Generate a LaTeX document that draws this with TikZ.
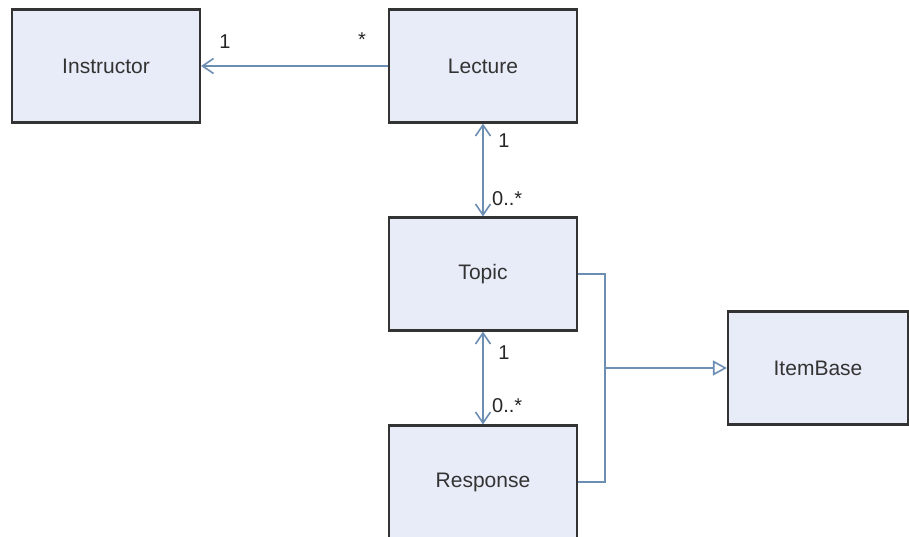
\documentclass[tikz,border=0pt]{standalone}
\usepackage{fontspec}
\setmainfont{Liberation Sans}
\usetikzlibrary{arrows.meta}
\definecolor{boxfill}{HTML}{E8ECF8}
\definecolor{boxline}{HTML}{333333}
\definecolor{assoc}{HTML}{6C8EB2}

\begin{document}
\begin{tikzpicture}[x=1pt,y=-1pt,
  cls/.style={draw=boxline,fill=boxfill,line width=2.2pt,minimum width=188pt,minimum height=113pt,inner sep=0pt,font=\fontsize{21}{24}\selectfont,text=black!80},
  conn/.style={draw=assoc,line width=1.6pt},
  barb/.tip={Straight Barb[length=11pt,width=15pt]},
  mult/.style={inner sep=0pt,font=\fontsize{20}{23}\selectfont,text=black!85}]
\useasboundingbox (0,0) rectangle (909,536);
\foreach \n/\t/\x/\y in {instr/Instructor/106/66, lect/Lecture/483/66, topic/Topic/483/274, resp/Response/483/482}
\node[cls] (\n) at (\x,\y) {\t};
\node[cls,minimum width=180pt] (item) at (818,368) {ItemBase};
% association Lecture -> Instructor
\draw[conn,-barb] (lect.west) -- (instr.east);
\node[mult] (m1) at (225,42) {1};
\node[mult] (m2) at (362,40) {*};
% Lecture <-> Topic
\draw[conn,barb-barb] (lect.south) -- (topic.north);
\node[mult] (m3) at (504,141) {1};
\node[mult,anchor=west] (m4) at (492,199) {0..*};
% Topic <-> Response
\draw[conn,barb-barb] (topic.south) -- (resp.north);
\node[mult] (m5) at (504,353) {1};
\node[mult,anchor=west] (m6) at (492,406) {0..*};
% generalization
\coordinate (jn) at (605,368);
\draw[conn] (topic.east) -| (jn) |- (resp.east);
\draw[conn,-{Triangle[open,length=14pt,width=15pt]}] (jn) -- (item.west);
\end{tikzpicture}
\end{document}
